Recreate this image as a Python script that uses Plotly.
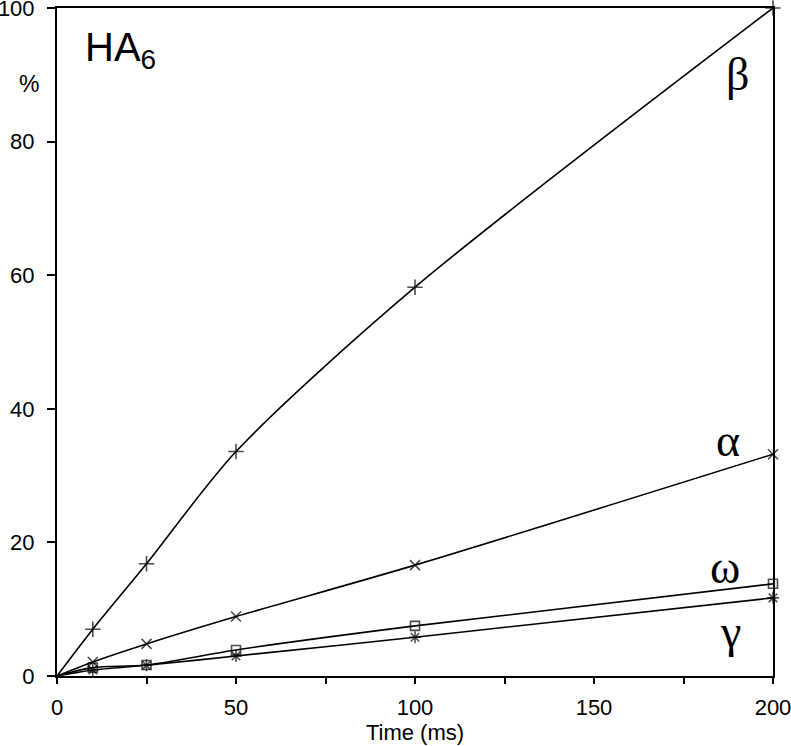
import plotly.graph_objects as go

# ── data ──────────────────────────────────────────────────────────────────────
time_ms = [0, 10, 25, 50, 100, 200]

beta_pct  = [0, 7.0, 16.8, 33.6, 58.2, 100.0]
alpha_pct = [0, 2.1, 4.8, 8.9, 16.6, 33.2]
omega_pct = [0, 1.25, 1.65, 3.9, 7.5, 13.8]
gamma_pct = [0, 0.9, 1.6, 3.0, 5.8, 11.7]

x_ticks = [0, 50, 100, 150, 200]
y_ticks = [0, 20, 40, 60, 80, 100]

series = [
    ("β", beta_pct,  "cross-thin",    11),
    ("α", alpha_pct, "x-thin",        10),
    ("ω", omega_pct, "square-open",   9),
    ("γ", gamma_pct, "asterisk-open", 10),
]

# label placement (data coords) for the greek letters
label_pos = {
    "β": (190, 90),
    "α": (187.5, 35.3),
    "ω": (186.6, 16.2),
    "γ": (188, 6.6),
}

fig = go.Figure()

for name, vals, sym, sz in series:
    fig.add_trace(go.Scatter(
        x=time_ms, y=vals, mode="lines+markers",
        line=dict(color="black", width=1.6, shape="spline", smoothing=0.8),
        marker=dict(symbol=sym, size=[0] + [sz] * (len(vals) - 1),
                    color="black", line=dict(color="black", width=1.6)),
        name=name, showlegend=False, cliponaxis=False,
        hoverinfo="skip",
    ))
    lx, ly = label_pos[name]
    fig.add_annotation(
        x=lx, y=ly, text=name, showarrow=False,
        font=dict(family="Liberation Serif", size=46, color="black"),
    )

# panel tag and y unit
fig.add_annotation(
    x=0.036, y=0.978, xref="paper", yref="paper",
    text="HA<sub>6</sub>", showarrow=False,
    xanchor="left", yanchor="top",
    font=dict(family="Liberation Sans", size=40, color="black"),
)
fig.add_annotation(
    x=-0.056, y=0.9085, xref="paper", yref="paper",
    text="%", showarrow=False,
    font=dict(family="Liberation Sans", size=23, color="black"),
)

axis_common = dict(
    showgrid=False, zeroline=False, automargin=False,
    showline=True, linecolor="black", linewidth=2, mirror=True,
    ticks="outside", tickcolor="black", tickwidth=1.5,
    ticklabeloverflow="allow",
    tickfont=dict(family="Liberation Sans", size=22, color="black"),
)

fig.update_layout(
    width=791, height=746,
    margin=dict(l=57, r=18, t=8, b=70),
    plot_bgcolor="white", paper_bgcolor="white",
    hovermode=False,
    xaxis=dict(
        range=[0, 200], tickvals=x_ticks, ticklen=6,
        minor=dict(dtick=25, ticks="outside", ticklen=6,
                   tickcolor="black", tickwidth=1.5),
        title=dict(text="Time (ms)", standoff=4,
                   font=dict(family="Liberation Sans", size=22, color="black")),
        ticklabelstandoff=5,
        **axis_common,
    ),
    yaxis=dict(
        range=[0, 100], tickvals=y_ticks, ticklen=8,
        ticklabelstandoff=8,
        **axis_common,
    ),
)

# drop the page's default body margin so the figure sits at the window corner
fig.write_html("out.html", config={"displayModeBar": False},
               post_script="document.body.style.margin='0';")
